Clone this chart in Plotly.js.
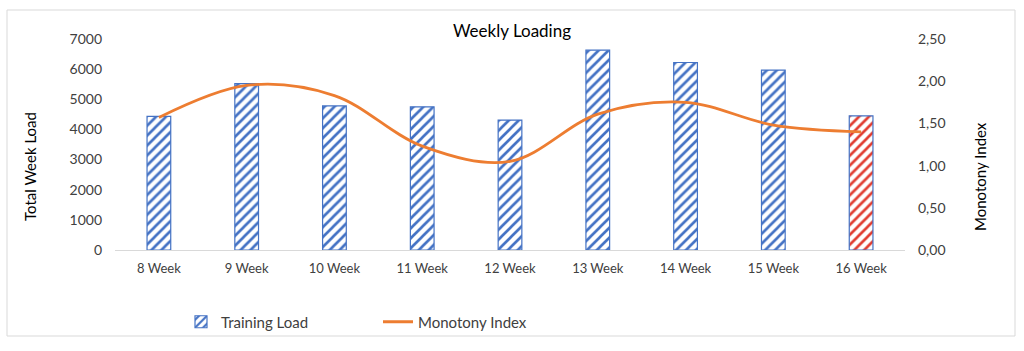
<!DOCTYPE html>
<html>
<head>
<meta charset="utf-8">
<script src="https://cdn.plot.ly/plotly-3.0.1.min.js"></script>
<style>html,body{margin:0;padding:0;background:#fff;}#chart{width:1024px;height:351px;}</style>
</head>
<body>
<div id="chart"></div>
<script>
const weeks = ["8 Week","9 Week","10 Week","11 Week","12 Week","13 Week","14 Week","15 Week","16 Week"];
const trainingLoad = [4430, 5520, 4780, 4750, 4310, 6630, 6220, 5970, 4450];
const monotonyIndex = [1.57, 1.95, 1.83, 1.23, 1.05, 1.61, 1.75, 1.48, 1.40];
const hatchColors = ["#4472C4","#4472C4","#4472C4","#4472C4","#4472C4","#4472C4","#4472C4","#4472C4","#E03C31"];
const leftTitle = "Total Week Load";
const rightTitle = "Monotony Index";

const FONT = "Lato, 'Open Sans', sans-serif";
const L = 115, R = 905, T = 39, B = 250, W = 1024, H = 351;
const px = x => (x - L) / (R - L);
const py = y => (B - y) / (B - T);

const traces = [
  {
    type: "bar", name: "Training Load", x: weeks, y: trainingLoad, yaxis: "y",
    width: 0.27,
    marker: {
      color: "#ffffff",
      line: {color: "#4472C4", width: 1.2},
      pattern: {shape: "/", fgcolor: hatchColors, bgcolor: "#ffffff", fgopacity: 1, size: 7, solidity: 0.38, fillmode: "replace"}
    },
    hoverinfo: "x+y"
  },
  {
    type: "scatter", mode: "lines", name: "Monotony Index", x: weeks, y: monotonyIndex, yaxis: "y2",
    line: {color: "#ED7D31", width: 2.8, shape: "spline", smoothing: 1.0}
  }
];

const layout = {
  width: W, height: H,
  margin: {l: L, r: W - R, t: T, b: H - B},
  paper_bgcolor: "#ffffff", plot_bgcolor: "#ffffff",
  font: {family: FONT, color: "#404040"},
  title: {text: "Weekly Loading", font: {family: FONT, size: 17, color: "#000000"}, x: 0.5, xanchor: "center", y: 1 - 31 / H, yanchor: "middle"},
  xaxis: {
    type: "category", showgrid: false, zeroline: false,
    showline: true, linecolor: "#D9D9D9", linewidth: 1,
    ticks: "", tickfont: {family: FONT, size: 13, color: "#404040"},
    ticklabelstandoff: 6
  },
  yaxis: {
    range: [0, 7000], dtick: 1000, showgrid: false, zeroline: false, showline: false,
    ticks: "", tickfont: {family: FONT, size: 14, color: "#404040"},
    tickformat: "d", ticklabelstandoff: 12
  },
  yaxis2: {
    range: [0, 2.5], dtick: 0.5, overlaying: "y", side: "right",
    showgrid: false, zeroline: false, showline: false,
    ticks: "", tickfont: {family: FONT, size: 14, color: "#404040"},
    tickformat: ".2f", ticklabelstandoff: 12
  },
  separators: ", ",
  showlegend: true,
  legend: {
    orientation: "h", x: px(181), xanchor: "left", y: py(322), yanchor: "middle",
    font: {family: FONT, size: 15, color: "#404040"},
    entrywidth: 152, traceorder: "normal", bgcolor: "rgba(0,0,0,0)"
  },
  annotations: [
    {text: leftTitle, xref: "paper", yref: "paper", x: px(30), y: py(167), xanchor: "center", yanchor: "middle",
     textangle: -90, showarrow: false, font: {family: FONT, size: 15, color: "#000000"}},
    {text: rightTitle, xref: "paper", yref: "paper", x: px(980), y: py(177), xanchor: "center", yanchor: "middle",
     textangle: -90, showarrow: false, font: {family: FONT, size: 15, color: "#000000"}}
  ],
  shapes: [
    {type: "rect", xref: "paper", yref: "paper", x0: px(7), x1: px(1015), y0: py(336), y1: py(10),
     line: {color: "#D9D9D9", width: 1}, fillcolor: "rgba(0,0,0,0)", layer: "below"}
  ]
};

Plotly.newPlot("chart", traces, layout, {displayModeBar: false, staticPlot: true});
</script>
</body>
</html>
